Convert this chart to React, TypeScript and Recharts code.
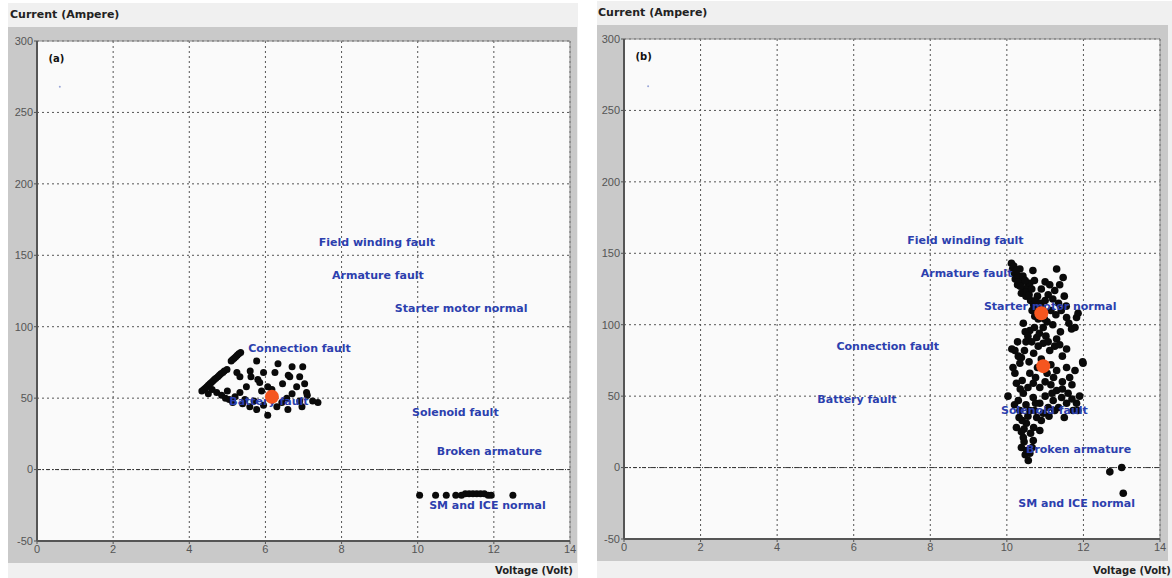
import React from "react"
import {
  CartesianGrid,
  ReferenceArea,
  ReferenceLine,
  Scatter,
  ScatterChart,
  XAxis,
  YAxis,
} from "recharts"

const xTicks = [0, 2, 4, 6, 8, 10, 12, 14]
const yTicks = [-50, 0, 50, 100, 150, 200, 250, 300]

// fault region labels, x is where the text starts
const faultLabels = [
  { x: 7.4, y: 159, text: "Field winding fault" },
  { x: 7.75, y: 136, text: "Armature fault" },
  { x: 9.4, y: 113, text: "Starter motor normal" },
  { x: 5.55, y: 85, text: "Connection fault" },
  { x: 5.05, y: 48, text: "Battery fault" },
  { x: 9.85, y: 40, text: "Solenoid fault" },
  { x: 10.5, y: 13, text: "Broken armature" },
  { x: 10.3, y: -25, text: "SM and ICE normal" },
]

// (a) measured points
const pointsA = [
  [4.33, 55], [4.42, 57], [4.5, 59], [4.58, 61], [4.66, 63], [4.75, 65], [4.83, 67], [4.92, 69], [4.99, 70],
  [4.38, 56], [4.46, 58], [4.54, 60], [4.62, 62], [4.7, 64], [4.79, 66], [4.88, 68],
  [5.1, 76], [5.18, 78], [5.26, 80], [5.35, 82], [5.14, 77], [5.22, 79], [5.3, 81],
  [5.77, 76], [5.25, 68], [5.33, 65], [5.6, 69], [5.62, 65],
  [5.8, 63], [5.85, 61], [6.25, 68], [6.33, 74], [6.6, 66], [6.64, 65], [6.9, 65], [6.98, 72], [6.82, 58],
  [7.03, 60], [6.06, 58], [6.17, 56], [7.08, 54], [7.1, 52], [7.38, 47], [4.72, 54], [4.85, 52], [4.95, 50],
  [5.05, 49], [5.14, 47], [5.33, 54], [5.46, 49], [5.59, 44], [5.77, 42], [6.06, 38], [6.59, 42], [6.43, 47],
  [6.56, 50], [6.9, 48], [6.96, 44], [7.24, 48], [5.0, 55], [5.2, 51], [5.4, 46], [5.7, 48], [5.95, 45],
  [6.3, 44], [6.7, 53], [5.5, 58], [4.6, 56], [4.5, 53], [5.9, 55], [6.45, 60], [5.95, 68], [6.7, 72],
  [10.05, -18], [10.47, -18], [10.75, -18], [11.0, -18], [11.15, -18], [11.25, -17], [11.35, -17],
  [11.45, -17], [11.55, -17], [11.65, -17], [11.75, -17], [11.85, -18], [11.93, -18], [12.5, -18],
]
const centresA = [[6.17, 51]]

// (b) measured points
const pointsB = [
  [10.12, 143], [10.15, 139], [10.2, 136], [10.22, 132], [10.3, 134], [10.34, 139], [10.28, 128], [10.4, 130],
  [10.45, 125], [10.38, 122], [10.5, 120], [10.55, 127], [10.6, 129], [10.68, 138], [10.72, 131], [10.62, 117],
  [10.7, 114], [10.78, 112], [10.85, 108], [10.8, 120], [10.9, 125], [11.0, 130], [11.12, 128], [11.3, 139],
  [11.38, 128], [11.47, 133], [11.2, 118], [11.35, 115], [11.5, 120], [11.56, 105], [11.69, 97], [11.78, 98],
  [11.82, 105], [11.86, 108], [11.05, 102], [10.95, 98], [11.2, 100], [11.4, 95],
  [10.18, 141], [10.25, 138], [10.3, 130], [10.35, 127], [10.42, 134], [10.48, 131], [10.52, 123], [10.58, 121],
  [10.65, 125], [10.66, 110], [10.75, 117], [10.82, 104], [10.88, 115], [10.92, 112], [11.0, 117], [11.08, 121],
  [11.15, 110], [11.25, 124], [11.28, 107], [11.42, 110], [11.55, 113], [11.62, 101], [10.73, 106], [10.98, 104],
  [10.43, 101], [10.6, 96], [10.78, 91], [10.95, 87], [11.12, 82], [10.21, 82], [10.13, 83], [10.38, 77],
  [11.56, 83], [11.98, 74], [10.34, 73], [10.6, 66], [10.21, 66], [10.25, 59], [10.69, 59], [11.3, 68],
  [11.56, 70], [11.64, 63], [11.99, 73], [10.5, 88], [10.7, 80], [10.9, 76], [11.15, 72], [11.3, 90],
  [11.45, 78], [10.03, 50],
  [10.48, 95], [10.55, 92], [10.65, 88], [10.72, 98], [10.85, 94], [11.02, 92], [11.08, 88], [11.25, 85],
  [11.38, 86], [10.3, 78], [10.46, 82], [10.58, 74], [10.8, 70], [10.82, 85], [11.05, 66], [11.22, 63],
  [11.45, 60], [11.7, 58], [11.78, 68], [10.28, 88], [10.16, 70], [10.4, 61], [10.55, 56], [10.75, 63],
  [11.0, 60],
  [10.43, 52], [10.69, 49], [10.86, 45], [10.6, 40], [10.78, 35], [10.51, 31], [10.86, 26], [10.43, 21],
  [10.69, 19], [10.38, 14], [10.6, 10], [10.56, 5], [11.3, 54], [11.43, 49], [11.21, 47], [11.56, 45],
  [11.73, 40], [11.08, 42], [11.82, 45], [10.86, 56], [10.34, 40], [10.25, 28], [10.95, 38], [10.3, 47],
  [10.5, 44], [11.0, 50], [11.35, 42], [11.6, 52], [11.9, 50], [10.4, 33], [10.7, 28], [10.55, 36],
  [10.35, 55], [11.15, 58], [10.45, 18],
  [10.2, 44], [10.32, 35], [10.45, 27], [10.62, 24], [10.75, 45], [10.9, 33], [11.1, 36], [11.25, 40],
  [11.45, 55], [11.7, 48], [11.85, 40], [10.48, 9], [10.52, 12], [10.66, 14], [10.38, 25], [10.72, 40],
  [11.18, 52], [11.5, 35],
  [12.69, -3], [13.0, 0], [13.04, -18],
]
const centresB = [[10.9, 108], [10.95, 71]]

const strayA = [[0.6, 268]]
const strayB = [[0.63, 267]]

const toRows = (arr: number[][]) => arr.map(([x, y]) => ({ x, y }))

const tickStyle = { fill: "#555", fontSize: 11, fontFamily: "Liberation Sans, Arial, sans-serif" }
const blue = "#2c3fae"
const boldFont = "DejaVu Sans, Verdana, sans-serif"

function Panel(props: any) {
  const { left, top, yAxisWidth, marginRight, tag, points, centres, stray, dot } = props
  return (
    <div style={{ position: "absolute", left, top, width: props.width, height: 536, background: "#c9c9c9" }}>
      <ScatterChart
        width={props.width}
        height={536}
        margin={{ top: 14, right: marginRight, left: 0, bottom: 0 }}
      >
        <CartesianGrid stroke="#555" strokeDasharray="2 3" fill="#fafafa" />
        <XAxis
          type="number"
          dataKey="x"
          domain={[0, 14]}
          ticks={xTicks}
          interval={0}
          height={22}
          tick={tickStyle}
          tickSize={3}
          tickMargin={1}
          axisLine={{ stroke: "#555", strokeWidth: 2 }}
          tickLine={{ stroke: "#555" }}
          allowDataOverflow
        />
        <YAxis
          type="number"
          dataKey="y"
          domain={[-50, 300]}
          ticks={yTicks}
          interval={0}
          width={yAxisWidth}
          tick={tickStyle}
          tickSize={3}
          tickMargin={1}
          axisLine={{ stroke: "#555", strokeWidth: 2 }}
          tickLine={{ stroke: "#555" }}
          allowDataOverflow
        />
        <ReferenceArea x1={0} x2={14} y1={-50} y2={300} fill="none" stroke="#8c8c8c" />
        <ReferenceLine y={0} stroke="#333" strokeDasharray="4 2 1 2" />
        <Scatter
          data={toRows(stray)}
          isAnimationActive={false}
          shape={(p: any) => <circle cx={p.cx} cy={p.cy} r={1} fill="#9aa6d8" />}
        />
        <Scatter
          data={toRows(points)}
          isAnimationActive={false}
          shape={(p: any) => <circle cx={p.cx} cy={p.cy} r={dot} fill="#0a0a0a" />}
        />
        <Scatter
          data={faultLabels}
          isAnimationActive={false}
          shape={(p: any) => (
            <text
              x={p.cx}
              y={p.cy}
              dominantBaseline="central"
              fill={blue}
              fontSize={11}
              fontWeight="bold"
              fontFamily={boldFont}
            >
              {p.payload.text}
            </text>
          )}
        />
        <Scatter
          data={toRows(centres)}
          isAnimationActive={false}
          shape={(p: any) => <circle cx={p.cx} cy={p.cy} r={7} fill="#f5561f" />}
        />
        <Scatter
          data={[{ x: 0.3, y: 288, text: tag }]}
          isAnimationActive={false}
          shape={(p: any) => (
            <text
              x={p.cx}
              y={p.cy}
              dominantBaseline="central"
              fill="#111"
              fontSize={10}
              fontWeight="bold"
              fontFamily={boldFont}
            >
              {p.payload.text}
            </text>
          )}
        />
      </ScatterChart>
    </div>
  )
}

const titleStyle: React.CSSProperties = {
  position: "absolute",
  fontFamily: boldFont,
  fontSize: 11,
  fontWeight: "bold",
  color: "#222",
  whiteSpace: "nowrap",
}

export default function App() {
  return (
    <div style={{ position: "absolute", left: 0, top: 0, width: 1172, height: 578, background: "#fff", overflow: "hidden" }}>
      <div style={{ position: "absolute", left: 8, top: 3, width: 570, height: 575, background: "#f0f0f0" }} />
      <div style={{ position: "absolute", left: 597, top: 1, width: 575, height: 577, background: "#f0f0f0" }} />
      <div style={{ ...titleStyle, left: 10, top: 8 }}>Current (Ampere)</div>
      <div style={{ ...titleStyle, left: 598, top: 6 }}>Current (Ampere)</div>
      <Panel left={8} top={27} width={569} yAxisWidth={29} marginRight={7} tag="(a)" points={pointsA} centres={centresA} stray={strayA} dot={3.5} />
      <Panel left={597} top={25} width={571} yAxisWidth={27} marginRight={8} tag="(b)" points={pointsB} centres={centresB} stray={strayB} dot={3.8} />
      <div style={{ ...titleStyle, fontSize: 10, left: 495, top: 565 }}>Voltage (Volt)</div>
      <div style={{ ...titleStyle, fontSize: 10, left: 1093, top: 565 }}>Voltage (Volt)</div>
    </div>
  )
}
